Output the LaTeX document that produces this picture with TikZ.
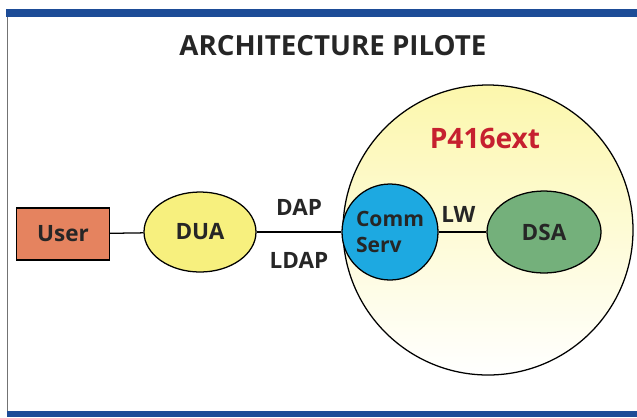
\documentclass[tikz,border=0pt]{standalone}
\usepackage{fontspec}
\setmainfont{Open Sans}
\usetikzlibrary{positioning,shapes.geometric}

\definecolor{barblue}{HTML}{1D4C97}
\definecolor{userorange}{HTML}{E5835F}
\definecolor{duayellow}{HTML}{F7F07E}
\definecolor{commblue}{HTML}{1DA9E1}
\definecolor{dsagreen}{HTML}{74B07B}
\definecolor{pred}{HTML}{C6202F}
\definecolor{zoneyellow}{HTML}{FCF7AC}

\begin{document}
\begin{tikzpicture}[x=0.025cm, y=-0.025cm, font=\bfseries,
   lbl/.style={font=\fontsize{16}{18}\selectfont\bfseries, text=black!85},
   blob/.style={ellipse, draw=black, line width=0.9pt, minimum width=112, minimum height=80, inner sep=0pt}]
   \useasboundingbox (0,0) rectangle (637,417);

   %frame
   \fill[barblue] (6,9) rectangle (637,17);
   \fill[barblue] (7,411) rectangle (637,417);
   \draw[black!55, line width=0.6pt] (7.5,17) -- (7.5,411);

   \node[font=\fontsize{19.7}{24}\selectfont\bfseries, text=black!85] (title) at (333,46) {ARCHITECTURE PILOTE};

   %P416ext zone
   \node[circle, draw=black, line width=0.9pt, minimum size=290*0.025cm, inner sep=0pt,
         top color=zoneyellow, bottom color=white] (zone) at (488,230) {};
   \node[font=\fontsize{20}{24}\selectfont\bfseries, text=pred] (ptitle) at (485,138) {P416ext};

   %client side
   \node[rectangle, draw=black, line width=0.9pt, fill=userorange, minimum width=93*0.025cm,
         minimum height=52*0.025cm, lbl] (user) at (63,234) {User};
   \node[blob, fill=duayellow, lbl, minimum width=112*0.025cm, minimum height=80*0.025cm] (dua) at (200,232) {DUA};

   %server side
   \node[circle, draw=black, line width=0.9pt, fill=commblue, minimum size=96*0.025cm, inner sep=0pt,
         lbl, align=left, font=\fontsize{15}{19}\selectfont\bfseries] (comm) at (390,232) {Comm\\Serv\phantom{m}};
   \node[blob, fill=dsagreen, lbl, minimum width=114*0.025cm, minimum height=82*0.025cm] (dsa) at (544,232) {DSA};

   \path[draw=black, line width=0.9pt]
     (user) edge node {} (dua)
     (dua) edge node[lbl, above=8pt] {DAP}
                node[lbl, below=11pt] {LDAP} (comm)
     (comm) edge node[lbl, above=3pt, xshift=-3pt] {LW} (dsa);
\end{tikzpicture}
\end{document}
